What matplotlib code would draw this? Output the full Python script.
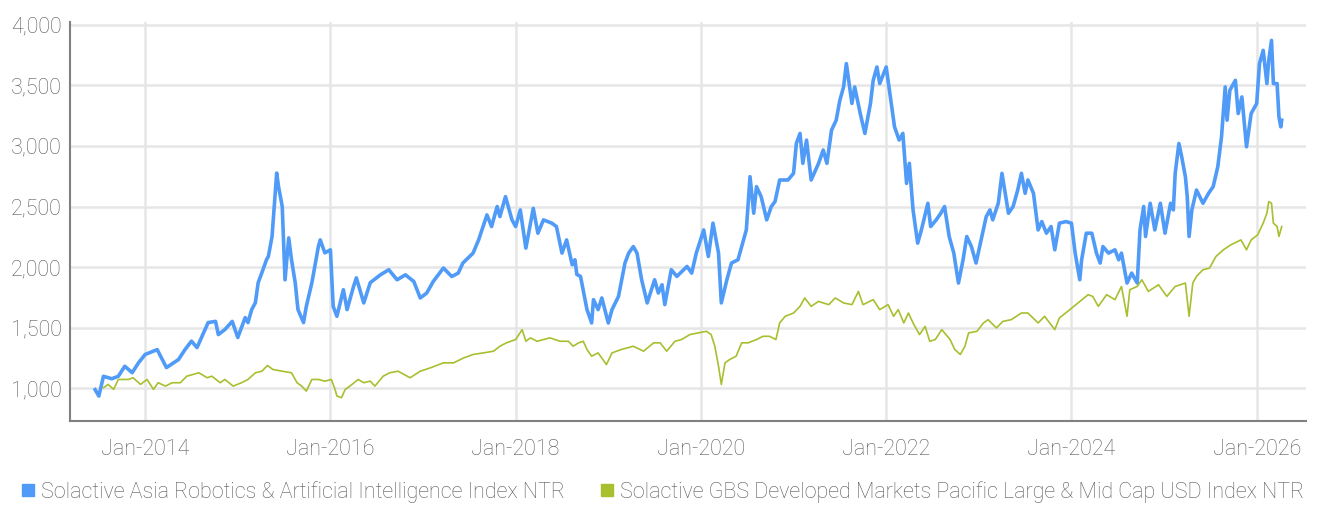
import matplotlib
matplotlib.use("Agg")
import matplotlib.pyplot as plt
from matplotlib.lines import Line2D
import numpy as np

plt.rcParams["font.family"] = ["Roboto", "DejaVu Sans"]
plt.rcParams["font.weight"] = "light"

# -------------------------------
# data (decimal years)
# -------------------------------
robo_t = [
    2013.46, 2013.50, 2013.55, 2013.64, 2013.71, 2013.78, 2013.86, 2013.93,
    2014.00, 2014.13, 2014.23, 2014.36, 2014.43, 2014.50, 2014.56, 2014.68,
    2014.76, 2014.79, 2014.86, 2014.94, 2015.00, 2015.08, 2015.11, 2015.15,
    2015.19, 2015.22, 2015.26, 2015.31, 2015.33, 2015.37, 2015.42, 2015.44,
    2015.48, 2015.51, 2015.55, 2015.58, 2015.62, 2015.65, 2015.71, 2015.74,
    2015.80, 2015.87, 2015.89, 2015.94, 2016.00, 2016.03, 2016.07, 2016.14,
    2016.18, 2016.25, 2016.28, 2016.36, 2016.43, 2016.54, 2016.63, 2016.72,
    2016.81, 2016.90, 2016.97, 2017.04, 2017.11, 2017.22, 2017.31, 2017.38,
    2017.43, 2017.54, 2017.60, 2017.69, 2017.74, 2017.80, 2017.83, 2017.89,
    2017.96, 2018.00, 2018.05, 2018.11, 2018.19, 2018.24, 2018.30, 2018.39,
    2018.44, 2018.50, 2018.55, 2018.61, 2018.64, 2018.66, 2018.70, 2018.77,
    2018.82, 2018.84, 2018.89, 2018.93, 2019.00, 2019.04, 2019.11, 2019.18,
    2019.22, 2019.27, 2019.31, 2019.36, 2019.42, 2019.50, 2019.54, 2019.58,
    2019.61, 2019.68, 2019.74, 2019.85, 2019.90, 2019.95, 2020.03, 2020.08,
    2020.13, 2020.19, 2020.22, 2020.28, 2020.33, 2020.40, 2020.44, 2020.49,
    2020.53, 2020.57, 2020.60, 2020.65, 2020.71, 2020.76, 2020.80, 2020.85,
    2020.94, 2021.00, 2021.03, 2021.07, 2021.10, 2021.14, 2021.19, 2021.27,
    2021.32, 2021.36, 2021.41, 2021.46, 2021.50, 2021.54, 2021.57, 2021.63,
    2021.66, 2021.72, 2021.77, 2021.83, 2021.86, 2021.90, 2021.93, 2022.00,
    2022.05, 2022.09, 2022.14, 2022.18, 2022.22, 2022.25, 2022.29, 2022.34,
    2022.38, 2022.45, 2022.48, 2022.54, 2022.59, 2022.63, 2022.68, 2022.73,
    2022.78, 2022.83, 2022.87, 2022.92, 2022.97, 2023.04, 2023.08, 2023.12,
    2023.15, 2023.21, 2023.25, 2023.32, 2023.37, 2023.42, 2023.46, 2023.50,
    2023.53, 2023.59, 2023.64, 2023.68, 2023.73, 2023.78, 2023.82, 2023.87,
    2023.94, 2024.00, 2024.04, 2024.09, 2024.11, 2024.16, 2024.22, 2024.27,
    2024.31, 2024.34, 2024.40, 2024.47, 2024.51, 2024.54, 2024.60, 2024.65,
    2024.71, 2024.74, 2024.78, 2024.80, 2024.85, 2024.90, 2024.96, 2025.01,
    2025.07, 2025.10, 2025.12, 2025.16, 2025.19, 2025.23, 2025.25, 2025.27,
    2025.30, 2025.35, 2025.42, 2025.48, 2025.53, 2025.58, 2025.62, 2025.66,
    2025.68, 2025.71, 2025.77, 2025.80, 2025.84, 2025.89, 2025.94, 2026.00,
    2026.03, 2026.07, 2026.11, 2026.13, 2026.16, 2026.18, 2026.22, 2026.24,
    2026.26, 2026.27,
]
robo_v = [
    990, 937, 1100, 1080, 1100, 1183, 1130, 1213,
    1280, 1320, 1172, 1238, 1320, 1390, 1337, 1543,
    1553, 1444, 1485, 1553, 1420, 1584, 1543, 1650,
    1707, 1872, 1954, 2061, 2088, 2253, 2776, 2664,
    2500, 1896, 2241, 2061, 1872, 1650, 1543, 1677,
    1872, 2170, 2225, 2118, 2143, 1677, 1595, 1814,
    1650, 1841, 1912, 1705, 1872, 1937, 1979, 1896,
    1937, 1882, 1746, 1787, 1882, 1993, 1923, 1951,
    2034, 2116, 2225, 2431, 2335, 2500, 2417, 2582,
    2390, 2335, 2472, 2157, 2485, 2280, 2390, 2363,
    2335, 2116, 2225, 2020, 2061, 1940, 1924, 1650,
    1540, 1732, 1650, 1746, 1540, 1650, 1759, 2034,
    2116, 2170, 2116, 1896, 1705, 1896, 1787, 1855,
    1691, 1979, 1924, 2006, 1951, 2116, 2307, 2088,
    2363, 2116, 1705, 1896, 2034, 2061, 2170, 2307,
    2746, 2445, 2664, 2582, 2390, 2500, 2541, 2719,
    2719, 2774, 3020, 3103, 2856, 3048, 2719, 2856,
    2966, 2856, 3130, 3212, 3377, 3486, 3679, 3350,
    3486, 3267, 3103, 3350, 3541, 3651, 3514, 3651,
    3377, 3157, 3048, 3103, 2691, 2856, 2472, 2198,
    2307, 2527, 2335, 2390, 2445, 2500, 2253, 2116,
    1869, 2061, 2253, 2170, 2034, 2280, 2417, 2472,
    2390, 2527, 2774, 2445, 2500, 2636, 2774, 2609,
    2719, 2609, 2307, 2376, 2280, 2335, 2143, 2363,
    2376, 2363, 2116, 1896, 2061, 2280, 2280, 2116,
    2034, 2170, 2116, 2143, 2061, 2116, 1869, 1951,
    1869, 2307, 2500, 2253, 2527, 2307, 2527, 2280,
    2527, 2472, 2774, 3020, 2911, 2746, 2582, 2253,
    2472, 2636, 2527, 2609, 2664, 2829, 3075, 3486,
    3212, 3459, 3541, 3267, 3404, 2993, 3267, 3350,
    3679, 3788, 3514, 3706, 3870, 3514, 3514, 3240,
    3157, 3212,
]

pac_t = [
    2013.55, 2013.60, 2013.66, 2013.71, 2013.82, 2013.87, 2013.95, 2014.02,
    2014.09, 2014.14, 2014.22, 2014.29, 2014.38, 2014.45, 2014.58, 2014.67,
    2014.72, 2014.81, 2014.86, 2014.95, 2015.04, 2015.11, 2015.19, 2015.26,
    2015.32, 2015.38, 2015.48, 2015.58, 2015.64, 2015.69, 2015.74, 2015.80,
    2015.87, 2015.94, 2016.01, 2016.05, 2016.07, 2016.12, 2016.16, 2016.21,
    2016.30, 2016.36, 2016.43, 2016.48, 2016.57, 2016.64, 2016.73, 2016.86,
    2016.97, 2017.08, 2017.22, 2017.33, 2017.44, 2017.54, 2017.65, 2017.76,
    2017.83, 2017.90, 2018.00, 2018.07, 2018.11, 2018.16, 2018.23, 2018.37,
    2018.48, 2018.57, 2018.62, 2018.68, 2018.73, 2018.77, 2018.82, 2018.89,
    2018.98, 2019.04, 2019.14, 2019.27, 2019.38, 2019.49, 2019.56, 2019.63,
    2019.72, 2019.79, 2019.88, 2019.97, 2020.06, 2020.11, 2020.15, 2020.19,
    2020.22, 2020.26, 2020.31, 2020.38, 2020.44, 2020.51, 2020.60, 2020.67,
    2020.74, 2020.81, 2020.85, 2020.91, 2021.00, 2021.07, 2021.12, 2021.19,
    2021.27, 2021.32, 2021.38, 2021.45, 2021.54, 2021.63, 2021.70, 2021.75,
    2021.86, 2021.93, 2022.02, 2022.08, 2022.13, 2022.19, 2022.24, 2022.29,
    2022.36, 2022.42, 2022.47, 2022.53, 2022.60, 2022.69, 2022.74, 2022.80,
    2022.85, 2022.89, 2022.98, 2023.05, 2023.10, 2023.19, 2023.26, 2023.35,
    2023.46, 2023.53, 2023.64, 2023.71, 2023.82, 2023.87, 2023.96, 2024.07,
    2024.18, 2024.23, 2024.29, 2024.38, 2024.47, 2024.54, 2024.60, 2024.63,
    2024.71, 2024.76, 2024.83, 2024.94, 2025.03, 2025.12, 2025.23, 2025.27,
    2025.31, 2025.35, 2025.42, 2025.49, 2025.56, 2025.64, 2025.72, 2025.83,
    2025.89, 2025.94, 2026.01, 2026.07, 2026.11, 2026.13, 2026.16, 2026.18,
    2026.22, 2026.24, 2026.27,
]
pac_v = [
    1006, 1033, 992, 1074, 1074, 1088, 1033, 1074,
    992, 1047, 1019, 1047, 1047, 1101, 1129, 1088,
    1101, 1047, 1074, 1019, 1047, 1074, 1129, 1142,
    1189, 1156, 1142, 1129, 1047, 1019, 978, 1074,
    1074, 1060, 1074, 992, 937, 924, 992, 1019,
    1074, 1047, 1060, 1019, 1101, 1129, 1142, 1088,
    1142, 1170, 1211, 1211, 1252, 1280, 1293, 1307,
    1348, 1376, 1403, 1485, 1389, 1417, 1389, 1417,
    1389, 1389, 1348, 1376, 1389, 1321, 1266, 1293,
    1197, 1293, 1321, 1348, 1307, 1376, 1376, 1307,
    1389, 1403, 1444, 1458, 1471, 1444, 1348, 1183,
    1033, 1211, 1238, 1266, 1376, 1376, 1403, 1430,
    1430, 1403, 1540, 1595, 1622, 1677, 1746, 1677,
    1718, 1705, 1691, 1746, 1705, 1691, 1800, 1691,
    1732, 1650, 1691, 1595, 1650, 1540, 1622, 1540,
    1444, 1512, 1389, 1403, 1485, 1403, 1321, 1280,
    1348, 1458, 1471, 1540, 1567, 1499, 1553, 1567,
    1622, 1622, 1540, 1595, 1485, 1581, 1636, 1705,
    1773, 1759, 1677, 1773, 1732, 1841, 1595, 1814,
    1841, 1896, 1800, 1855, 1759, 1841, 1869, 1595,
    1869, 1924, 1979, 1992, 2088, 2143, 2184, 2225,
    2143, 2225, 2266, 2363, 2445, 2541, 2527, 2363,
    2335, 2253, 2335,
]

tick_years = [2014, 2016, 2018, 2020, 2022, 2024, 2026]
tick_labels = [f"Jan-{y}" for y in tick_years]
y_ticks = [1000, 1500, 2000, 2500, 3000, 3500, 4000]

robo_name = "Solactive Asia Robotics & Artificial Intelligence Index NTR"
pac_name = "Solactive GBS Developed Markets Pacific Large & Mid Cap USD Index NTR"

blue = "#4f9bf7"
green = "#a8bf2f"
text_gray = "#595959"

# -------------------------------
# figure
# -------------------------------
fig = plt.figure(figsize=(13.23, 5.05), dpi=100)
ax = fig.add_axes([0.053, 0.166, 0.934, 0.790])

ax.plot(robo_t, robo_v, color=blue, linewidth=2.6, solid_joinstyle="round")
ax.plot(pac_t, pac_v, color=green, linewidth=1.2)

ax.set_xlim(2013.19, 2026.53)
ax.set_ylim(730, 4020)
ax.set_xticks(tick_years)
ax.set_xticklabels(tick_labels)
ax.set_yticks(y_ticks)
ax.set_yticklabels([f"{v:,}" for v in y_ticks])

ax.grid(True, color="#e6e6e6", linewidth=1.8)
ax.set_axisbelow(True)
ax.tick_params(length=0, labelsize=15.5, colors=text_gray)
ax.tick_params(axis="x", pad=13)
ax.tick_params(axis="y", pad=6)

for side in ["top", "right"]:
    ax.spines[side].set_visible(False)
for side in ["left", "bottom"]:
    ax.spines[side].set_color("#808080")
    ax.spines[side].set_linewidth(1.5)

handles = [
    Line2D([], [], marker="s", linestyle="none", markersize=8, color=blue),
    Line2D([], [], marker="s", linestyle="none", markersize=8, color=green),
]
fig.legend(
    handles, [robo_name, pac_name],
    loc="center left", bbox_to_anchor=(0.016, 0.026),
    ncol=2, frameon=False, fontsize=15.5, labelcolor=text_gray,
    handlelength=0.6, handletextpad=0.3, columnspacing=1.7,
    borderaxespad=0, borderpad=0,
)

fig.savefig("out.png", dpi=100)
